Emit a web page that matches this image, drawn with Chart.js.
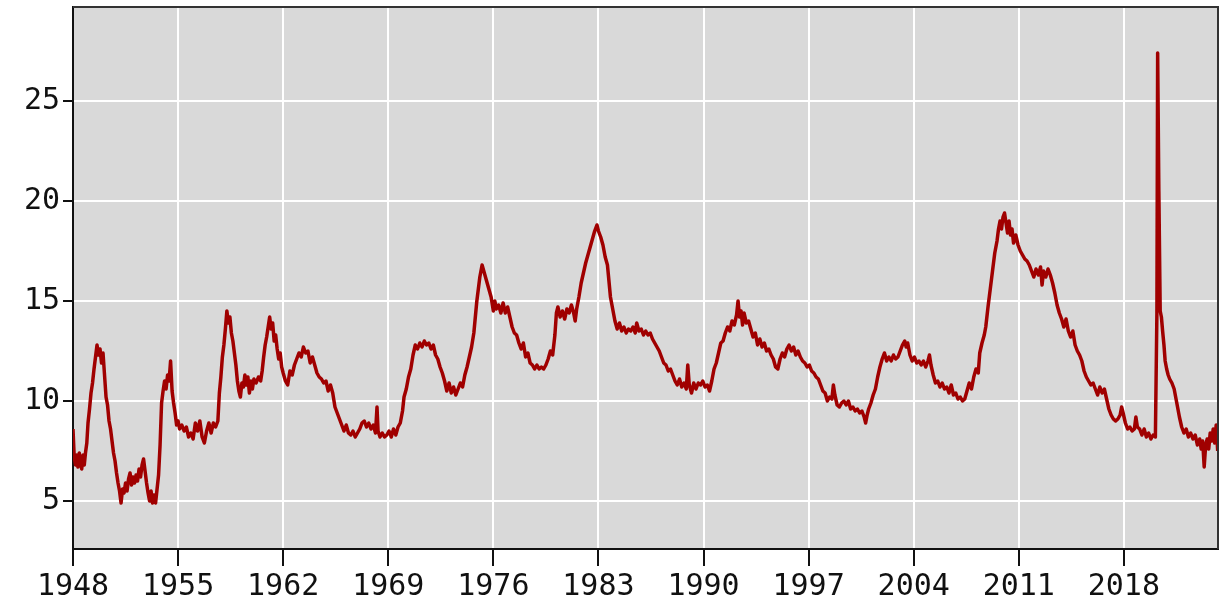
<!DOCTYPE html>
<html>
<head>
<meta charset="utf-8">
<title>Unemployment rate</title>
<script src="https://cdn.jsdelivr.net/npm/chart.js@4.4.1/dist/chart.umd.min.js"></script>
<style>
  html, body { margin: 0; padding: 0; background: #fff; }
  canvas { display: block; }
</style>
</head>
<body>
<canvas id="rateChart" width="1229" height="609" style="width:1229px;height:609px"></canvas>
<script>
// values (year, percent)
const years = [
  1948.00, 1948.08, 1948.17, 1948.25, 1948.33, 1948.42, 1948.50, 1948.58, 1948.67, 1948.75,
  1948.83, 1948.92, 1949.00, 1949.10, 1949.20, 1949.30, 1949.40, 1949.50, 1949.60, 1949.70,
  1949.80, 1949.90, 1950.00, 1950.10, 1950.20, 1950.30, 1950.40, 1950.50, 1950.60, 1950.70,
  1950.80, 1950.90, 1951.00, 1951.10, 1951.20, 1951.30, 1951.40, 1951.50, 1951.60, 1951.70,
  1951.80, 1951.90, 1952.00, 1952.10, 1952.20, 1952.30, 1952.40, 1952.50, 1952.60, 1952.70,
  1952.80, 1952.90, 1953.00, 1953.10, 1953.20, 1953.30, 1953.40, 1953.50, 1953.60, 1953.70,
  1953.80, 1953.90, 1954.00, 1954.10, 1954.20, 1954.30, 1954.40, 1954.50, 1954.60, 1954.70,
  1954.80, 1954.90, 1955.00, 1955.10, 1955.25, 1955.40, 1955.55, 1955.70, 1955.85, 1956.00,
  1956.15, 1956.30, 1956.45, 1956.60, 1956.75, 1956.90, 1957.05, 1957.20, 1957.35, 1957.50,
  1957.65, 1957.75, 1957.85, 1957.95, 1958.05, 1958.15, 1958.25, 1958.35, 1958.45, 1958.55,
  1958.65, 1958.75, 1958.85, 1958.95, 1959.05, 1959.15, 1959.25, 1959.35, 1959.45, 1959.55,
  1959.65, 1959.75, 1959.85, 1959.95, 1960.05, 1960.20, 1960.35, 1960.50, 1960.60, 1960.70,
  1960.80, 1960.90, 1961.00, 1961.10, 1961.20, 1961.30, 1961.40, 1961.50, 1961.60, 1961.70,
  1961.80, 1961.90, 1962.00, 1962.15, 1962.30, 1962.45, 1962.60, 1962.75, 1962.90, 1963.05,
  1963.20, 1963.35, 1963.50, 1963.65, 1963.80, 1963.95, 1964.10, 1964.25, 1964.40, 1964.55,
  1964.70, 1964.85, 1965.00, 1965.15, 1965.30, 1965.45, 1965.60, 1965.75, 1965.90, 1966.05,
  1966.20, 1966.35, 1966.50, 1966.65, 1966.80, 1966.95, 1967.10, 1967.25, 1967.40, 1967.55,
  1967.70, 1967.85, 1968.00, 1968.15, 1968.25, 1968.32, 1968.45, 1968.60, 1968.75, 1968.90,
  1969.05, 1969.20, 1969.35, 1969.50, 1969.65, 1969.80, 1969.95, 1970.05, 1970.20, 1970.35,
  1970.50, 1970.65, 1970.80, 1970.95, 1971.10, 1971.25, 1971.40, 1971.55, 1971.70, 1971.85,
  1972.00, 1972.15, 1972.30, 1972.45, 1972.60, 1972.75, 1972.90, 1973.05, 1973.20, 1973.35,
  1973.50, 1973.65, 1973.80, 1973.95, 1974.10, 1974.25, 1974.40, 1974.55, 1974.70, 1974.80,
  1974.90, 1975.00, 1975.10, 1975.25, 1975.40, 1975.55, 1975.70, 1975.85, 1976.00, 1976.10,
  1976.20, 1976.35, 1976.50, 1976.65, 1976.80, 1976.95, 1977.10, 1977.25, 1977.40, 1977.55,
  1977.70, 1977.85, 1978.00, 1978.15, 1978.30, 1978.45, 1978.60, 1978.75, 1978.90, 1979.05,
  1979.20, 1979.35, 1979.50, 1979.65, 1979.80, 1979.95, 1980.10, 1980.20, 1980.30, 1980.45,
  1980.60, 1980.75, 1980.90, 1981.05, 1981.20, 1981.35, 1981.45, 1981.55, 1981.70, 1981.85,
  1982.00, 1982.15, 1982.30, 1982.45, 1982.60, 1982.75, 1982.90, 1983.00, 1983.15, 1983.30,
  1983.45, 1983.60, 1983.70, 1983.80, 1983.95, 1984.10, 1984.25, 1984.40, 1984.55, 1984.70,
  1984.85, 1985.00, 1985.15, 1985.30, 1985.45, 1985.55, 1985.70, 1985.85, 1986.00, 1986.15,
  1986.30, 1986.45, 1986.60, 1986.75, 1986.90, 1987.05, 1987.20, 1987.35, 1987.50, 1987.65,
  1987.80, 1987.95, 1988.10, 1988.25, 1988.40, 1988.55, 1988.70, 1988.85, 1988.95, 1989.05,
  1989.20, 1989.35, 1989.50, 1989.65, 1989.80, 1989.95, 1990.10, 1990.25, 1990.40, 1990.55,
  1990.70, 1990.85, 1991.00, 1991.15, 1991.30, 1991.45, 1991.60, 1991.75, 1991.90, 1992.05,
  1992.20, 1992.30, 1992.40, 1992.50, 1992.60, 1992.70, 1992.85, 1993.00, 1993.15, 1993.30,
  1993.45, 1993.60, 1993.75, 1993.90, 1994.05, 1994.20, 1994.35, 1994.50, 1994.65, 1994.80,
  1994.95, 1995.10, 1995.25, 1995.40, 1995.55, 1995.70, 1995.85, 1996.00, 1996.15, 1996.30,
  1996.45, 1996.60, 1996.75, 1996.90, 1997.05, 1997.20, 1997.35, 1997.50, 1997.65, 1997.80,
  1997.95, 1998.10, 1998.25, 1998.40, 1998.55, 1998.65, 1998.75, 1998.90, 1999.05, 1999.20,
  1999.35, 1999.50, 1999.65, 1999.80, 1999.95, 2000.10, 2000.25, 2000.40, 2000.55, 2000.70,
  2000.80, 2000.90, 2001.00, 2001.15, 2001.30, 2001.45, 2001.60, 2001.75, 2001.90, 2002.05,
  2002.20, 2002.35, 2002.50, 2002.65, 2002.80, 2002.95, 2003.10, 2003.25, 2003.40, 2003.50,
  2003.60, 2003.75, 2003.90, 2004.05, 2004.20, 2004.35, 2004.50, 2004.65, 2004.80, 2004.95,
  2005.05, 2005.15, 2005.30, 2005.45, 2005.60, 2005.75, 2005.90, 2006.05, 2006.20, 2006.35,
  2006.50, 2006.65, 2006.80, 2006.95, 2007.10, 2007.25, 2007.40, 2007.55, 2007.70, 2007.85,
  2008.00, 2008.15, 2008.30, 2008.40, 2008.55, 2008.70, 2008.80, 2008.95, 2009.10, 2009.25,
  2009.40, 2009.55, 2009.65, 2009.75, 2009.85, 2009.95, 2010.05, 2010.15, 2010.25, 2010.35,
  2010.45, 2010.55, 2010.65, 2010.80, 2010.95, 2011.10, 2011.25, 2011.40, 2011.55, 2011.70,
  2011.85, 2012.00, 2012.15, 2012.30, 2012.45, 2012.55, 2012.65, 2012.80, 2012.95, 2013.10,
  2013.25, 2013.40, 2013.55, 2013.70, 2013.85, 2014.00, 2014.15, 2014.30, 2014.45, 2014.60,
  2014.75, 2014.90, 2015.05, 2015.20, 2015.35, 2015.50, 2015.65, 2015.80, 2015.95, 2016.10,
  2016.25, 2016.40, 2016.55, 2016.70, 2016.85, 2017.00, 2017.15, 2017.30, 2017.45, 2017.60,
  2017.75, 2017.85, 2017.95, 2018.10, 2018.25, 2018.40, 2018.55, 2018.70, 2018.80, 2018.90,
  2019.05, 2019.20, 2019.35, 2019.50, 2019.65, 2019.80, 2019.95, 2020.10, 2020.20, 2020.25,
  2020.33, 2020.42, 2020.50, 2020.58, 2020.67, 2020.75, 2020.85, 2020.95, 2021.05, 2021.20,
  2021.35, 2021.50, 2021.60, 2021.70, 2021.85, 2022.00, 2022.15, 2022.30, 2022.45, 2022.60,
  2022.75, 2022.90, 2023.05, 2023.15, 2023.25, 2023.35, 2023.45, 2023.55, 2023.65, 2023.75,
  2023.85, 2023.95, 2024.05, 2024.15, 2024.25
];

const rates = [
  8.6, 7.2, 6.8, 7.3, 6.7, 7.4, 6.9, 6.6, 7.3, 6.8,
  7.4, 7.9, 8.9, 9.6, 10.4, 10.9, 11.6, 12.2, 12.8, 12.3,
  12.6, 11.9, 12.4, 11.3, 10.2, 9.8, 9.0, 8.6, 8.0, 7.4,
  7.0, 6.4, 5.9, 5.5, 4.9, 5.6, 5.4, 5.9, 5.5, 6.1,
  6.4, 5.8, 6.2, 5.9, 6.3, 6.0, 6.6, 6.2, 6.8, 7.1,
  6.5, 5.9, 5.4, 5.0, 5.5, 4.9, 5.3, 4.9, 5.6, 6.3,
  7.8, 9.9, 10.5, 11.0, 10.6, 11.3, 11.0, 12.0, 10.5, 9.9,
  9.4, 8.8, 9.0, 8.6, 8.8, 8.5, 8.7, 8.2, 8.4, 8.1,
  8.9, 8.5, 9.0, 8.2, 7.9, 8.5, 8.9, 8.4, 8.9, 8.7,
  9.0, 10.4, 11.2, 12.2, 12.8, 13.6, 14.5, 13.9, 14.2, 13.4,
  13.0, 12.4, 11.8, 11.0, 10.5, 10.2, 10.9, 10.7, 11.3, 10.8,
  11.2, 10.4, 11.0, 10.6, 11.1, 10.9, 11.2, 11.0, 11.5, 12.2,
  12.8, 13.2, 13.7, 14.2, 13.6, 13.9, 13.0, 13.3, 12.6, 12.1,
  12.4, 11.7, 11.4, 11.0, 10.8, 11.5, 11.3, 11.8, 12.1, 12.4,
  12.2, 12.7, 12.4, 12.5, 11.9, 12.2, 11.8, 11.4, 11.2, 11.1,
  10.9, 11.0, 10.5, 10.8, 10.4, 9.7, 9.4, 9.1, 8.8, 8.5,
  8.8, 8.4, 8.3, 8.5, 8.2, 8.4, 8.6, 8.9, 9.0, 8.7,
  8.9, 8.6, 8.8, 8.4, 9.7, 8.5, 8.2, 8.4, 8.2, 8.3,
  8.5, 8.2, 8.6, 8.3, 8.7, 8.9, 9.5, 10.2, 10.6, 11.2,
  11.6, 12.3, 12.8, 12.6, 12.9, 12.7, 13.0, 12.8, 12.9, 12.6,
  12.8, 12.3, 12.1, 11.7, 11.4, 11.0, 10.5, 10.9, 10.4, 10.7,
  10.3, 10.6, 10.9, 10.7, 11.3, 11.7, 12.2, 12.7, 13.4, 14.2,
  15.0, 15.6, 16.2, 16.8, 16.4, 16.0, 15.6, 15.2, 14.5, 15.0,
  14.6, 14.8, 14.4, 14.9, 14.4, 14.7, 14.2, 13.7, 13.4, 13.3,
  12.9, 12.6, 12.9, 12.2, 12.4, 11.9, 11.8, 11.6, 11.8, 11.6,
  11.7, 11.6, 11.8, 12.1, 12.5, 12.3, 13.3, 14.4, 14.7, 14.2,
  14.5, 14.1, 14.6, 14.4, 14.8, 14.4, 14.0, 14.6, 15.2, 15.9,
  16.4, 16.9, 17.3, 17.7, 18.1, 18.5, 18.8, 18.5, 18.2, 17.8,
  17.2, 16.8, 16.0, 15.2, 14.6, 14.0, 13.6, 13.9, 13.5, 13.7,
  13.4, 13.6, 13.5, 13.7, 13.4, 13.9, 13.5, 13.6, 13.3, 13.5,
  13.3, 13.4, 13.1, 12.9, 12.7, 12.5, 12.2, 11.9, 11.8, 11.5,
  11.6, 11.3, 11.0, 10.8, 11.1, 10.7, 10.9, 10.6, 11.8, 10.8,
  10.4, 10.9, 10.6, 10.9, 10.8, 11.0, 10.7, 10.8, 10.5, 11.0,
  11.6, 11.9, 12.4, 12.9, 13.0, 13.4, 13.7, 13.5, 14.0, 13.8,
  14.3, 15.0, 14.2, 14.5, 13.8, 14.4, 13.9, 14.0, 13.6, 13.2,
  13.4, 12.8, 13.1, 12.7, 12.9, 12.5, 12.6, 12.3, 12.1, 11.7,
  11.6, 12.1, 12.4, 12.2, 12.6, 12.8, 12.5, 12.7, 12.3, 12.5,
  12.2, 12.0, 11.9, 11.7, 11.8, 11.5, 11.4, 11.2, 11.1, 10.8,
  10.5, 10.4, 10.0, 10.2, 10.1, 10.8, 10.3, 9.8, 9.7, 9.9,
  10.0, 9.8, 10.0, 9.6, 9.7, 9.5, 9.6, 9.4, 9.5, 9.2,
  8.9, 9.3, 9.6, 9.9, 10.3, 10.6, 11.2, 11.7, 12.1, 12.4,
  12.0, 12.2, 12.0, 12.3, 12.1, 12.2, 12.5, 12.8, 13.0, 12.7,
  12.9, 12.3, 12.0, 12.2, 11.9, 12.0, 11.8, 12.0, 11.7, 12.0,
  12.3, 11.8, 11.3, 10.9, 11.0, 10.7, 10.9, 10.6, 10.7, 10.4,
  10.8, 10.3, 10.4, 10.1, 10.2, 10.0, 10.1, 10.5, 10.9, 10.6,
  11.2, 11.6, 11.4, 12.4, 12.9, 13.3, 13.7, 14.7, 15.6, 16.5,
  17.4, 18.0, 18.6, 19.0, 18.6, 19.2, 19.4, 18.9, 18.4, 19.0,
  18.3, 18.6, 17.9, 18.3, 17.8, 17.5, 17.3, 17.1, 17.0, 16.8,
  16.5, 16.2, 16.6, 16.3, 16.7, 15.8, 16.5, 16.2, 16.6, 16.3,
  15.9, 15.4, 14.8, 14.4, 14.1, 13.7, 14.1, 13.5, 13.2, 13.5,
  12.8, 12.5, 12.3, 12.0, 11.5, 11.2, 11.0, 10.8, 10.9, 10.6,
  10.3, 10.7, 10.4, 10.6, 10.1, 9.6, 9.3, 9.1, 9.0, 9.1,
  9.3, 9.7, 9.4, 8.9, 8.6, 8.7, 8.5, 8.6, 9.2, 8.7,
  8.6, 8.3, 8.6, 8.2, 8.4, 8.1, 8.3, 8.2, 14.4, 27.4,
  20.5, 14.5, 14.2, 13.5, 12.8, 12.0, 11.6, 11.3, 11.1, 10.9,
  10.6, 10.0, 9.6, 9.2, 8.7, 8.4, 8.6, 8.2, 8.4, 8.1,
  8.3, 7.8, 8.1, 7.6, 8.0, 6.7, 7.8, 8.1, 7.6, 8.4,
  8.0, 8.6, 7.9, 8.8, 7.5
];

const xTicks = [1948, 1955, 1962, 1969, 1976, 1983, 1990, 1997, 2004, 2011, 2018];
const yTicks = [5, 10, 15, 20, 25];

if (years.length !== rates.length) console.warn("length mismatch", years.length, rates.length);

const tickFont = { family: "'DejaVu Sans Mono', monospace", size: 30 };

// grey panel behind the plot, dark frame on top and right
const panel = {
  id: "panel",
  beforeDraw(chart) {
    const { ctx, chartArea: a } = chart;
    ctx.save();
    ctx.fillStyle = "#d9d9d9";
    ctx.fillRect(a.left, a.top, a.right - a.left, a.bottom - a.top);
    ctx.restore();
  },
  afterDraw(chart) {
    const { ctx, chartArea: a } = chart;
    ctx.save();
    ctx.strokeStyle = "#333";
    ctx.lineWidth = 2;
    ctx.beginPath();
    ctx.moveTo(a.left, a.top);
    ctx.lineTo(a.right, a.top);
    ctx.lineTo(a.right, a.bottom);
    ctx.stroke();
    ctx.restore();
  }
};

const ctx = document.getElementById("rateChart").getContext("2d");
new Chart(ctx, {
  type: "line",
  data: {
    datasets: [{
      data: years.map((x, i) => ({ x: x, y: rates[i] })),
      borderColor: "#a00000",
      borderWidth: 3.5,
      borderJoinStyle: "round",
      pointRadius: 0,
      tension: 0,
      fill: false
    }]
  },
  options: {
    responsive: false,
    animation: false,
    layout: { padding: { top: 7, right: 11, left: 0, bottom: 0 } },
    plugins: { legend: { display: false }, tooltip: { enabled: false } },
    scales: {
      x: {
        type: "linear",
        min: 1948,
        max: 2024.27,
        afterBuildTicks: s => { s.ticks = xTicks.map(v => ({ value: v })); },
        afterFit: s => { s.height = 60; s.paddingLeft = 0; s.paddingRight = 0; },
        ticks: { font: tickFont, color: "#111", padding: 3, maxRotation: 0, autoSkip: false,
                 callback: v => String(v) },
        grid: { color: "#ffffff", lineWidth: 2, tickColor: "#111", tickLength: 17, tickWidth: 2 },
        border: { color: "#111", width: 2 }
      },
      y: {
        min: 2.6,
        max: 29.7,
        afterBuildTicks: s => { s.ticks = yTicks.map(v => ({ value: v })); },
        afterFit: s => { s.width = 73; s.paddingTop = 0; s.paddingBottom = 0; },
        ticks: { font: tickFont, color: "#111", padding: 3, callback: v => String(v) },
        grid: { color: "#ffffff", lineWidth: 2, tickColor: "#111", tickLength: 10, tickWidth: 2 },
        border: { color: "#111", width: 2 }
      }
    }
  },
  plugins: [panel]
});
</script>
</body>
</html>
